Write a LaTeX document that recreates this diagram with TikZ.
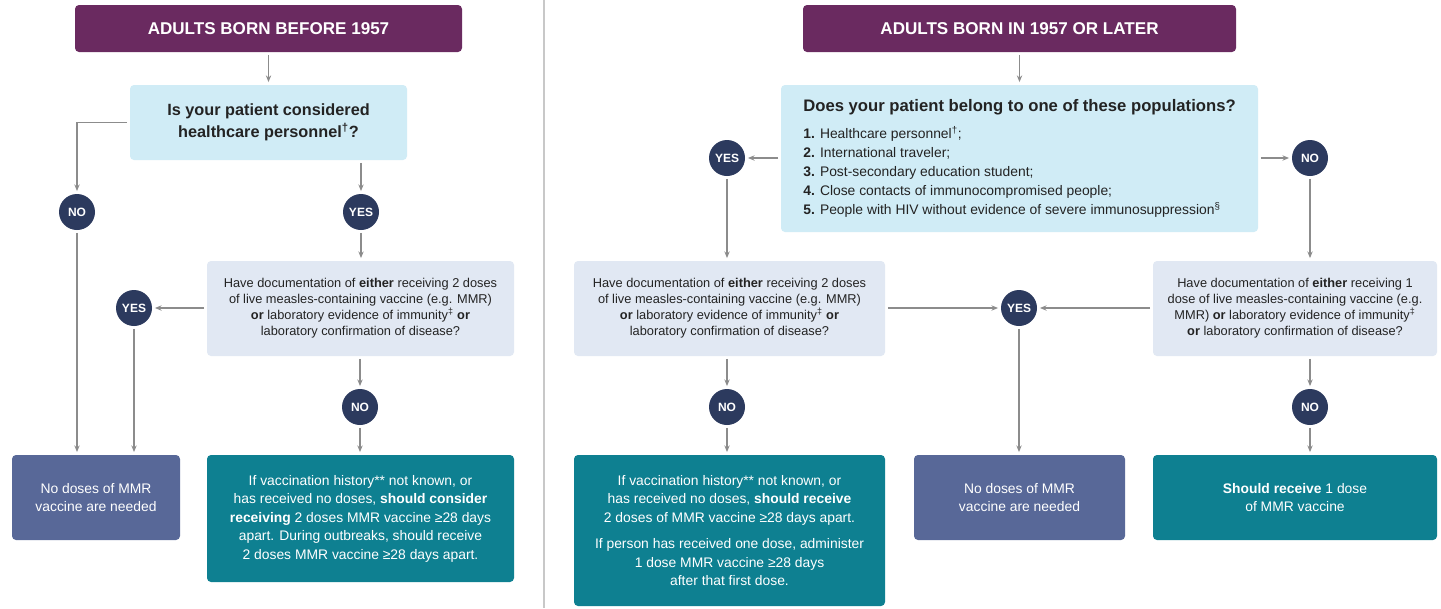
\documentclass[tikz,border=0pt]{standalone}
\usepackage{fontspec}
\setmainfont{Liberation Sans}
\usetikzlibrary{arrows.meta}
\definecolor{hdrc}{HTML}{6A2A60}
\definecolor{qblue}{HTML}{D0ECF6}
\definecolor{docblue}{HTML}{E1E8F3}
\definecolor{circc}{HTML}{2C3A5E}
\definecolor{slatec}{HTML}{586898}
\definecolor{tealc}{HTML}{0E8091}
\definecolor{arrgray}{HTML}{8C8C8C}
\definecolor{divc}{HTML}{C8C8C8}
\definecolor{txtc}{HTML}{232323}
\begin{document}
\begin{tikzpicture}[x=0.75pt,y=-0.75pt,
  sz/.style 2 args={minimum width={#1*0.75pt},minimum height={#2*0.75pt}},
  base/.style={inner sep=0pt, rounded corners=3pt, align=center},
  hdrbox/.style={base,fill=hdrc,text=white,font=\fontsize{12.8}{15}\selectfont\bfseries},
  qbox/.style={base,fill=qblue,text=txtc},
  docbox/.style={base,fill=docblue,text=txtc,font=\fontsize{9.6}{12}\selectfont},
  greybox/.style={base,fill=slatec,text=white,font=\fontsize{10.4}{13.3}\selectfont},
  tealbox/.style={base,fill=tealc,text=white,font=\fontsize{10.4}{13.9}\selectfont},
  yn/.style={circle,fill=circc,text=white,inner sep=0pt,minimum size=27pt,font=\fontsize{9}{10}\selectfont\bfseries},
  arr/.style={draw=arrgray,line width=0.9pt,-{Stealth[length=5pt,width=4pt]},shorten >=2pt,shorten <=2pt},
  divline/.style={draw=divc,line width=1pt}
]
\useasboundingbox (0,0) rectangle (1441,608);
\fill[white] (0,0) rectangle (1441,608);

% ---------- left half ----------
\node[hdrbox,sz={387}{47}] (h1) at (268.5,28.5) {ADULTS BORN BEFORE 1957};
\node[qbox,sz={277}{75},font=\fontsize{12.2}{16.2}\selectfont\bfseries] (q1) at (268.5,122.5)
  {Is your patient considered\\healthcare personnel\textsuperscript{†}?};
\node[yn] (no1) at (77,212) {NO};
\node[yn] (yes1) at (361,212) {YES};
\node[docbox,sz={307}{95}] (d1) at (360.5,308.5)
  {Have documentation of \textbf{either} receiving 2 doses\\of live measles-containing vaccine (e.g. MMR)\\\textbf{or} laboratory evidence of immunity\textsuperscript{‡} \textbf{or}\\laboratory confirmation of disease?};
\node[yn] (yes2) at (134,308) {YES};
\node[yn] (no2) at (360,407) {NO};
\node[greybox,sz={168}{85}] (nd1) at (96,497.5) {No doses of MMR\\vaccine are needed};
\node[tealbox,sz={307}{127}] (t1) at (360.5,518.5)
  {If vaccination history** not known, or\\has received no doses, \textbf{should consider}\\\textbf{receiving} 2 doses MMR vaccine ≥28 days\\apart. During outbreaks, should receive\\2 doses MMR vaccine ≥28 days apart.};

\draw[arr] (h1) -- (q1);
\draw[arr] (q1.west) -| (no1);
\draw[arr] (q1.south -| yes1) -- (yes1);
\draw[arr] (yes1) -- (yes1 |- d1.north);
\draw[arr] (d1.west |- yes2) -- (yes2);
\draw[arr] (yes2) -- (yes2 |- nd1.north);
\draw[arr] (no1) -- (no1 |- nd1.north);
\draw[arr] (d1.south -| no2) -- (no2);
\draw[arr] (no2) -- (no2 |- t1.north);

% divider
\draw[divline] (544,0) -- (544,608);

% ---------- right half ----------
\node[hdrbox,sz={433}{47}] (h2) at (1019.5,28.5) {ADULTS BORN IN 1957 OR LATER};
\node[qbox,sz={477}{147},align=left,font=\fontsize{10.4}{14.2}\selectfont] (q2) at (1019.5,158.5)
  {{\fontsize{12.5}{14}\selectfont\bfseries Does your patient belong to one of these populations?}\\[6pt]
   \textbf{1.} Healthcare personnel\textsuperscript{†};\\
   \textbf{2.} International traveler;\\
   \textbf{3.} Post-secondary education student;\\
   \textbf{4.} Close contacts of immunocompromised people;\\
   \textbf{5.} People with HIV without evidence of severe immunosuppression\textsuperscript{§}};
\node[yn] (yes3) at (727,158) {YES};
\node[yn] (no3) at (1310,158) {NO};
\node[docbox,sz={311}{95}] (d2) at (729.5,308.5)
  {Have documentation of \textbf{either} receiving 2 doses\\of live measles-containing vaccine (e.g. MMR)\\\textbf{or} laboratory evidence of immunity\textsuperscript{‡} \textbf{or}\\laboratory confirmation of disease?};
\node[docbox,sz={284}{95}] (d3) at (1295,308.5)
  {Have documentation of \textbf{either} receiving 1\\dose of live measles-containing vaccine (e.g.\\MMR) \textbf{or} laboratory evidence of immunity\textsuperscript{‡}\\\textbf{or} laboratory confirmation of disease?};
\node[yn] (yes4) at (1019,308) {YES};
\node[yn] (no4) at (727,407) {NO};
\node[yn] (no5) at (1310,407) {NO};
\node[tealbox,sz={311}{151}] (t2) at (729.5,530.5)
  {If vaccination history** not known, or\\has received no doses, \textbf{should receive}\\2 doses of MMR vaccine ≥28 days apart.\\[6pt]If person has received one dose, administer\\1 dose MMR vaccine ≥28 days\\after that first dose.};
\node[greybox,sz={211}{85}] (nd2) at (1019.5,497.5) {No doses of MMR\\vaccine are needed};
\node[tealbox,sz={284}{85}] (t3) at (1295,497.5) {\textbf{Should receive} 1 dose\\of MMR vaccine};

\draw[arr] (h2) -- (q2);
\draw[arr] (q2.west |- yes3) -- (yes3);
\draw[arr] (q2.east |- no3) -- (no3);
\draw[arr] (yes3) -- (yes3 |- d2.north);
\draw[arr] (no3) -- (no3 |- d3.north);
\draw[arr] (d2.east |- yes4) -- (yes4);
\draw[arr] (d3.west |- yes4) -- (yes4);
\draw[arr] (yes4) -- (yes4 |- nd2.north);
\draw[arr] (d2.south -| no4) -- (no4);
\draw[arr] (no4) -- (no4 |- t2.north);
\draw[arr] (d3.south -| no5) -- (no5);
\draw[arr] (no5) -- (no5 |- t3.north);
\end{tikzpicture}
\end{document}
